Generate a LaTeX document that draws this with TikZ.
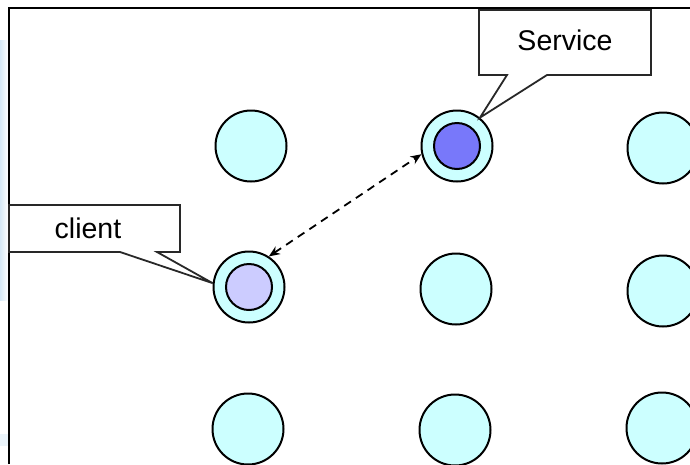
\documentclass[tikz,border=0pt]{standalone}
\usepackage{fontspec}
\setmainfont{Liberation Sans}
\usetikzlibrary{arrows.meta,calc}
\definecolor{peer}{RGB}{204,255,255}
\definecolor{svcfill}{RGB}{120,120,250}
\definecolor{clifill}{RGB}{204,204,255}
\definecolor{haze}{RGB}{214,232,246}
\definecolor{calloutline}{RGB}{40,40,40}
\tikzset{
  peernode/.style={circle, draw=black, line width=2pt, fill=peer,
    minimum size=71pt, inner sep=0pt},
  corenode/.style={circle, draw=black, line width=2pt,
    minimum size=46pt, inner sep=0pt},
  callout/.style={draw=calloutline, line width=1.8pt, fill=white,
    line join=miter},
  calloutext/.style={font=\fontsize{28.5}{32}\selectfont, inner sep=0pt},
  link/.style={line width=1.8pt, dash pattern=on 8pt off 6pt,
    {Stealth[length=11pt,width=9pt]}-{Stealth[length=11pt,width=9pt]}},
}
\begin{document}
\begin{tikzpicture}[x=1pt, y=-1pt]
  \useasboundingbox (0,0) rectangle (690,464);
  % faint backdrop left of the frame
  \shade[left color=haze, right color=white] (0,40) rectangle (8,300);
  \fill[haze!50] (0,434) rectangle (8,446);

  % frame, open towards the right and bottom
  \draw[line width=2pt] (9,464) -- (9,8) -- (690,8);

  % grid of peers
  \node[peernode] (p11) at (251,146) {};
  \node[peernode] (svc) at (457,146) {};
  \node[peernode] (p13) at (663,148) {};
  \node[peernode] (cli) at (249,287) {};
  \node[peernode] (p22) at (456,289) {};
  \node[peernode] (p23) at (663,291) {};
  \node[peernode] (p31) at (248,429) {};
  \node[peernode] (p32) at (455,430) {};
  \node[peernode] (p33) at (662,428) {};

  \node[corenode, fill=svcfill] (svccore) at (svc) {};
  \node[corenode, fill=clifill] (clicore) at (cli) {};

  % request path between client and service
  \draw[link] (cli.57) -- (svc.193);

  % callout for the service
  \coordinate (sNW) at (479,10);
  \coordinate (sSE) at (651,75);
  \draw[callout] (sNW) -- (sNW -| sSE) -- (sSE)
    -- ($(sSE)+(-104,0)$) -- (svc.51) -- ($(sSE)+(-144,0)$)
    -- (sNW |- sSE) -- cycle;
  \node[calloutext] (svclabel) at (565,40) {Service};

  % callout for the client
  \coordinate (cNW) at (9,205);
  \coordinate (cSE) at (180,252);
  \draw[callout] (cNW) -- (cNW -| cSE) -- (cSE)
    -- ($(cSE)+(-23,0)$) -- (cli.174) -- ($(cSE)+(-60,0)$)
    -- (cNW |- cSE) -- cycle;
  \node[calloutext] (clilabel) at (88,228) {client};
\end{tikzpicture}
\end{document}
